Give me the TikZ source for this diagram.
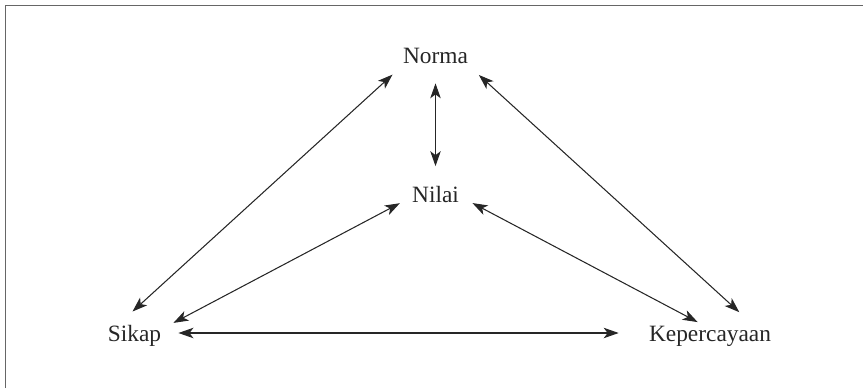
\documentclass[tikz,border=0pt]{standalone}
\usepackage{fontspec}
\setmainfont{Liberation Serif}
\usepackage{tikz}
\usetikzlibrary{positioning,arrows.meta}

\begin{document}
\begin{tikzpicture}[
		lbl/.style={inner sep=0pt,text height=0.32cm,text depth=0pt,text=black!85,font=\fontsize{13.3}{16}\selectfont},
		arr/.style={black!85,line width=0.6pt,{Stealth[length=0.30cm,width=0.21cm,inset=0.08cm]}-{Stealth[length=0.30cm,width=0.21cm,inset=0.08cm]}}
	]
		\useasboundingbox (0,0) rectangle (17.26,7.76);
		\draw[black!60,line width=0.7pt] (0.11,0) -- (0.11,7.65) -- (17.26,7.65);
		\node[lbl] (norma) at (8.71,6.65) {Norma};
		\node[lbl] (nilai) at (8.71,3.88) {Nilai};
		\node[lbl] (sikap) at (2.69,1.10) {Sikap};
		\node[lbl] (kepercayaan) at (14.20,1.10) {Kepercayaan};
		\draw[arr,shorten <=0.39cm,shorten >=0.39cm] (norma) -- (nilai);
		\draw[arr,shorten <=0.32cm,shorten >=0.39cm] (norma.195) -- (sikap.153);
		\draw[arr,shorten <=0.33cm,shorten >=0.37cm] (norma.-15) -- (kepercayaan.11);
		\draw[arr,shorten <=0.27cm,shorten >=0.27cm] (nilai.187) -- (sikap.8);
		\draw[arr,shorten <=0.30cm,shorten >=0.11cm] (nilai.-5) -- (kepercayaan.132);
		\draw[arr,shorten <=0.34cm,shorten >=0.60cm] (sikap.east) -- (kepercayaan.west);
	\end{tikzpicture}
\end{document}
